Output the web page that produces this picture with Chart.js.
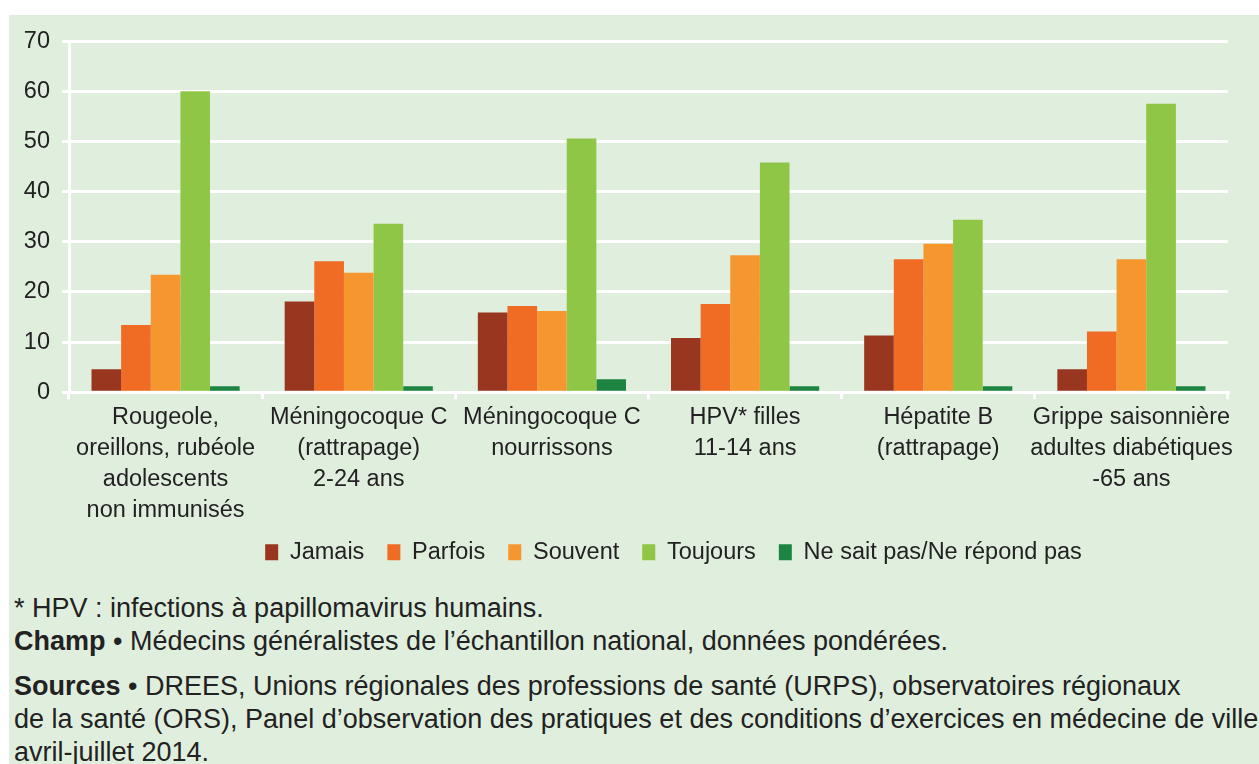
<!DOCTYPE html>
<html>
<head>
<meta charset="utf-8">
<script src="https://cdn.jsdelivr.net/npm/chart.js"></script>
<style>
    body { margin: 0; background: #fff; width: 1259px; height: 764px; overflow: hidden; font-family: "Liberation Sans", Arial, sans-serif; }
    #panel { position: absolute; left: 9px; top: 15px; width: 1250px; height: 749px; background: #e0efdd; overflow: hidden; }
    #wrap { position: absolute; left: 0; top: 0; width: 1250px; height: 559px; }
    #notes { position: absolute; left: 5px; top: 577px; font-size: 27px; line-height: 33px; color: #222; white-space: nowrap; }
    #notes p { margin: 0; }
    #notes .src { margin-top: 12px; }
</style>
</head>
<body>
<div id="panel">
    <div id="wrap"><canvas id="chart"></canvas></div>
    <div id="notes">
        <p>* HPV : infections à papillomavirus humains.</p>
        <p><b>Champ</b> • Médecins généralistes de l’échantillon national, données pondérées.</p>
        <p class="src"><b>Sources</b> • DREES, Unions régionales des professions de santé (URPS), observatoires régionaux</p>
        <p>de la santé (ORS), Panel d’observation des pratiques et des conditions d’exercices en médecine de ville</p>
        <p>avril-juillet 2014.</p>
    </div>
</div>
<script>
const categories = [
    ['Rougeole,', 'oreillons, rubéole', 'adolescents', 'non immunisés'],
    ['Méningocoque C', '(rattrapage)', '2-24 ans'],
    ['Méningocoque C', 'nourrissons'],
    ['HPV* filles', '11-14 ans'],
    ['Hépatite B', '(rattrapage)'],
    ['Grippe saisonnière', 'adultes diabétiques', '-65 ans']
];
const seriesNames = ['Jamais', 'Parfois', 'Souvent', 'Toujours', 'Ne sait pas/Ne répond pas'];
const jamais = [4.6, 18.1, 15.9, 10.8, 11.3, 4.6];
const parfois = [13.4, 26.1, 17.2, 17.6, 26.5, 12.1];
const souvent = [23.4, 23.8, 16.2, 27.3, 29.6, 26.5];
const toujours = [60.0, 33.6, 50.6, 45.8, 34.4, 57.5];
const nsp = [1.2, 1.2, 2.6, 1.2, 1.2, 1.2];
const colors = ['#983620', '#f06b24', '#f6962f', '#8fc645', '#1d8442'];

const FONT = '"Liberation Sans", Arial, sans-serif';
const TEXT = '#222';

// nudge the legend to the right, as in the original layout
const legendShift = {
    id: 'legendShift',
    afterLayout(chart) {
        chart.legend.left += 55;
        chart.legend.right += 55;
    }
};

const ctx = document.getElementById('chart').getContext('2d');
const values = [jamais, parfois, souvent, toujours, nsp];

new Chart(ctx, {
    type: 'bar',
    data: {
        labels: categories,
        datasets: seriesNames.map((name, i) => ({
            label: name,
            data: values[i],
            backgroundColor: colors[i],
            borderWidth: 0,
            categoryPercentage: 0.767,
            barPercentage: 1
        }))
    },
    options: {
        responsive: true,
        maintainAspectRatio: false,
        animation: false,
        layout: { padding: { top: 22, left: 0, right: 31, bottom: 0 } },
        plugins: {
            legend: {
                position: 'bottom',
                labels: {
                    boxWidth: 13,
                    boxHeight: 16,
                    padding: 23,
                    color: TEXT,
                    font: { family: FONT, size: 23.5 }
                }
            },
            tooltip: { enabled: false }
        },
        scales: {
            x: {
                grid: { drawOnChartArea: false, color: '#fff', lineWidth: 3, tickLength: 7 },
                border: { color: '#fff', width: 3 },
                ticks: {
                    color: TEXT,
                    padding: 3,
                    maxRotation: 0,
                    autoSkip: false,
                    font: { family: FONT, size: 23.5, lineHeight: 31 / 23.5 }
                },
                afterFit: (s) => { s.height = 125.25; }
            },
            y: {
                min: 0,
                max: 70,
                grid: { color: '#fff', lineWidth: 3, tickLength: 7 },
                border: { color: '#fff', width: 3 },
                ticks: {
                    stepSize: 10,
                    color: TEXT,
                    padding: 12,
                    font: { family: FONT, size: 23.5 }
                },
                afterFit: (s) => { s.width = 60; }
            }
        }
    },
    plugins: [legendShift]
});
</script>
</body>
</html>
